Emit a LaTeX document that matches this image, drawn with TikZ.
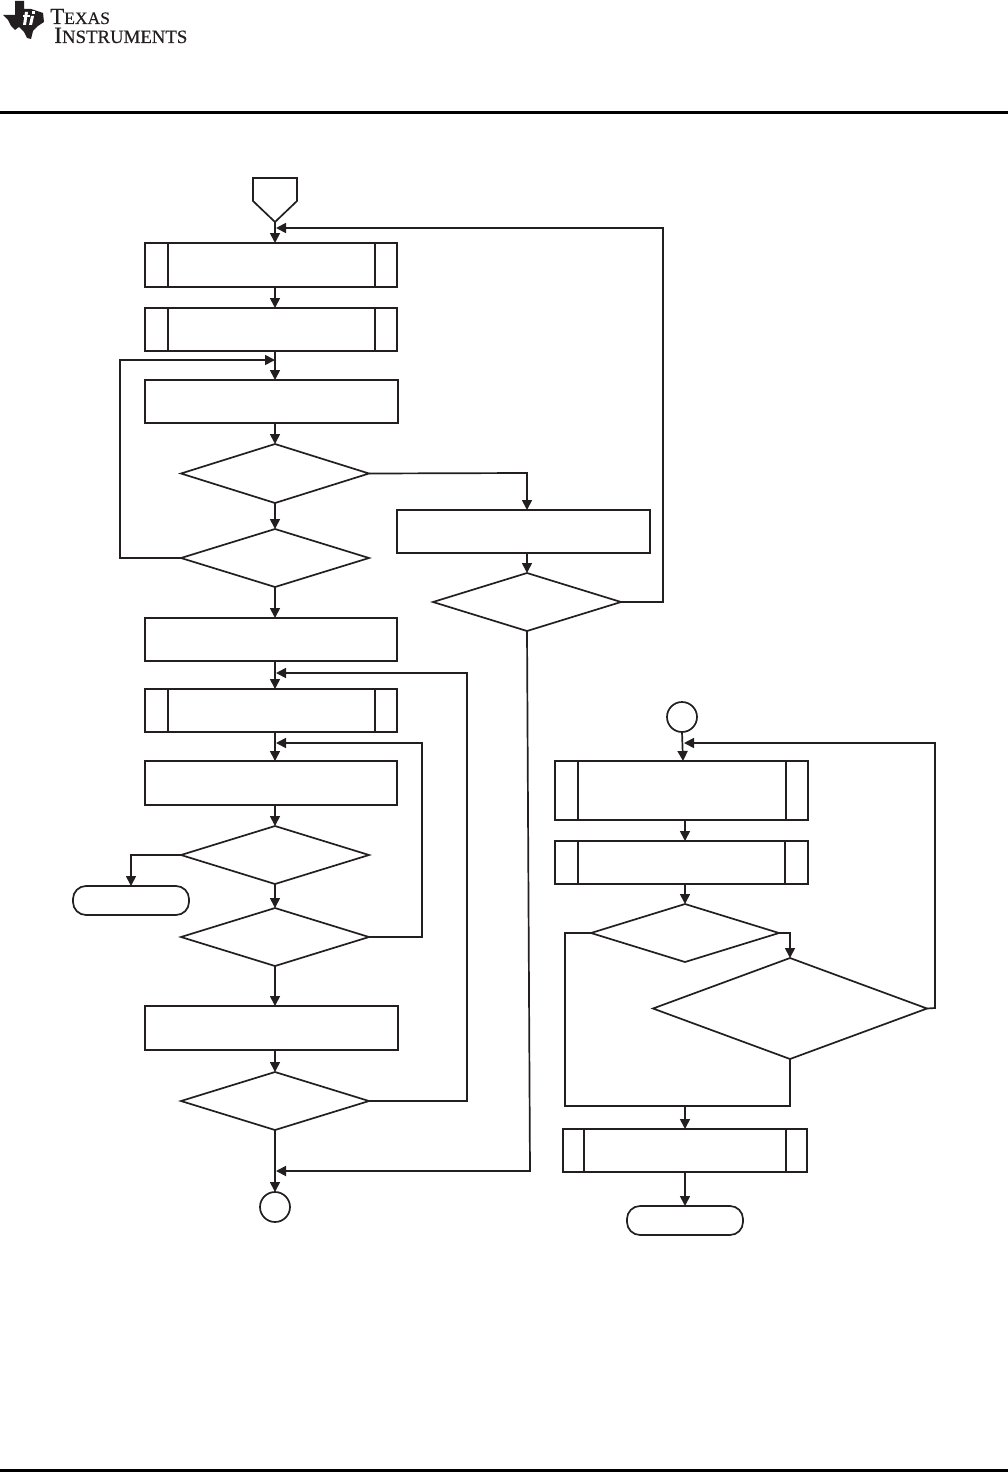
\documentclass[tikz,border=0pt]{standalone}
\usepackage{fontspec}
\setmainfont{Liberation Serif}
\newfontfamily\logofont[FakeBold=0.35]{Liberation Serif}
\usetikzlibrary{arrows.meta,shapes.geometric}
\definecolor{ink}{HTML}{231F20}
\tikzset{
  x=1pt,y=-1pt,
  base/.style={draw=ink,line width=1.7pt,inner sep=0pt,outer sep=0pt},
  boxn/.style={base,rectangle},
  subbox/.style 2 args={base,rectangle,path picture={
    \draw[ink,line width=1.7pt] ([xshift=#1]path picture bounding box.north west) -- ([xshift=#1]path picture bounding box.south west);
    \draw[ink,line width=1.7pt] ([xshift=-#2]path picture bounding box.north east) -- ([xshift=-#2]path picture bounding box.south east);}},
  dia/.style={base,diamond},
  termn/.style={base,rectangle,rounded corners=13pt},
  circ/.style={base,circle,minimum size=30pt},
  conn/.style={draw=ink,line width=1.7pt,line join=miter},
  arr/.style={conn,-{Triangle[length=10pt,width=10pt]}},
  logotext/.style={anchor=base west,inner sep=0pt,text=ink,text height=15pt,text depth=0pt},
}
\newcommand{\bx}[6]{\node[#1,minimum width=#4pt-#2pt,minimum height=#5pt-#3pt] (#6) at ({(#2+#4)/2},{(#3+#5)/2}) {};}
\begin{document}
\begin{tikzpicture}
\useasboundingbox (0,0) rectangle (1008,1472);
\fill[white] (0,0) rectangle (1008,1472);
% header
\fill[black] (0,111) rectangle (1008,114);
\fill[black] (0,1469) rectangle (1008,1472);
% logo
\fill[ink] (3,15) -- (15,15) -- (15,1) -- (24,1) -- (24,9) -- (31,9) -- (37,11) -- (43,13) -- (44,22) -- (38,26) -- (33,31) -- (31,39) -- (27,38) -- (24,32) -- (19,27) -- (15,30) -- (11,26) -- (8,20) -- cycle;
\fill[white] (25,12) -- (28,12) -- (26,25) -- (23,25) -- cycle;
\fill[white] (23,15) rectangle (30,17);
\fill[white] (32,11) rectangle (35,14);
\fill[white] (31,16) -- (34,16) -- (32,25) -- (29,25) -- cycle;
\node[logotext] (logoa) at (50,24) {\logofont\fontsize{23}{23}\selectfont T\fontsize{17.5}{17.5}\selectfont EXAS};
\node[logotext] (logob) at (54,43) {\logofont\fontsize{23.5}{23.5}\selectfont I\fontsize{18.8}{18.8}\selectfont NSTRUMENTS};
% left column
\path[base] (253,178) -- (297,178) -- (297,201) -- (275,222) -- (253,201) -- cycle;
\coordinate (start) at (275,222);
\bx{subbox={23pt}{22pt}}{145}{243}{397}{287}{b1}
\bx{subbox={23pt}{22pt}}{145}{308}{397}{351}{b2}
\bx{boxn}{145}{380}{398}{423}{b3}
\bx{dia}{181}{444}{369}{503}{d1}
\bx{dia}{181}{529}{369}{587}{d2}
\bx{boxn}{397}{510}{650}{553}{b4}
\bx{dia}{433}{573}{621}{631}{d3}
\bx{boxn}{145}{618}{397}{661}{b5}
\bx{subbox={23pt}{22pt}}{145}{689}{397}{732}{b6}
\bx{boxn}{145}{761}{397}{805}{b7}
\bx{dia}{181}{826}{369}{884}{d4}
\bx{termn}{73}{886}{189}{915}{t1}
\bx{dia}{181}{908}{369}{966}{d5}
\bx{boxn}{145}{1006}{398}{1050}{b8}
\bx{dia}{181}{1072}{369}{1130}{d6}
\node[circ] (c1) at (275,1207) {};
% right column
\node[circ] (c2) at (682,717) {};
\bx{subbox={23pt}{22pt}}{555}{761}{808}{820}{b9}
\bx{subbox={23pt}{23pt}}{555}{841}{808}{884}{b10}
\bx{dia}{591}{904}{779}{962}{d7}
\bx{dia}{653}{958}{927}{1059}{d8}
\bx{subbox={21pt}{21pt}}{563}{1129}{807}{1172}{b11}
\bx{termn}{627}{1206}{743}{1235}{t2}
% connector helpers
\coordinate (m1) at (276,228);
\coordinate (m2) at (275,360);
\coordinate (m3) at (276,673);
\coordinate (m4) at (276,743);
\coordinate (m5) at (276,1171);
\coordinate (m6) at (684,743);
\coordinate (j1) at (685,1106);
% left flow
\draw[arr] (start) -- (start |- b1.north);
\draw[arr] (start |- b1.south) -- (start |- b2.north);
\draw[arr] (start |- b2.south) -- (start |- b3.north);
\draw[arr] (start |- b3.south) -- (d1.north);
\draw[arr] (d1.south) -- (d2.north);
\draw[arr] (d2.south) -- (start |- b5.north);
\draw[arr] (start |- b5.south) -- (start |- b6.north);
\draw[arr] (start |- b6.south) -- (start |- b7.north);
\draw[arr] (start |- b7.south) -- (d4.north);
\draw[arr] (d4.south) -- (d5.north);
\draw[arr] (d5.south) -- (start |- b8.north);
\draw[arr] (start |- b8.south) -- (d6.north);
\draw[arr] (d6.south) -- (c1.north);
% loops
\draw[arr] (d2.west) -- (120,558) -- (120,360) -- (m2);
\draw[arr] (d1.east) -- (527,473) -- (527,510);
\draw[arr] (527,553) -- (d3.north);
\draw[arr] (d3.east) -- (663,602) -- (663,228) -- (m1);
\draw[arr] (d3.south) -- (530,1171) -- (m5);
\draw[arr] (d4.west) -- (131,855) -- (131,886);
\draw[arr] (d5.east) -- (422,937) -- (422,743) -- (m4);
\draw[arr] (d6.east) -- (467,1101) -- (467,673) -- (m3);
% right flow
\draw[arr] (c2.south) -- (683,761);
\draw[arr] (685,820) -- (685,841);
\draw[arr] (685,884) -- (d7.north);
\draw[arr] (d7.east) -- (d7.east -| d8.north) -- (d8.north);
\draw[arr] (d8.east) -- (935,1008) -- (935,743) -- (m6);
\draw[conn] (d7.west) -- (565,933) -- (565,1106) -- (790,1106) -- (d8.south);
\draw[arr] (j1) -- (685,1129);
\draw[arr] (685,1172) -- (685,1206);
\end{tikzpicture}
\end{document}
